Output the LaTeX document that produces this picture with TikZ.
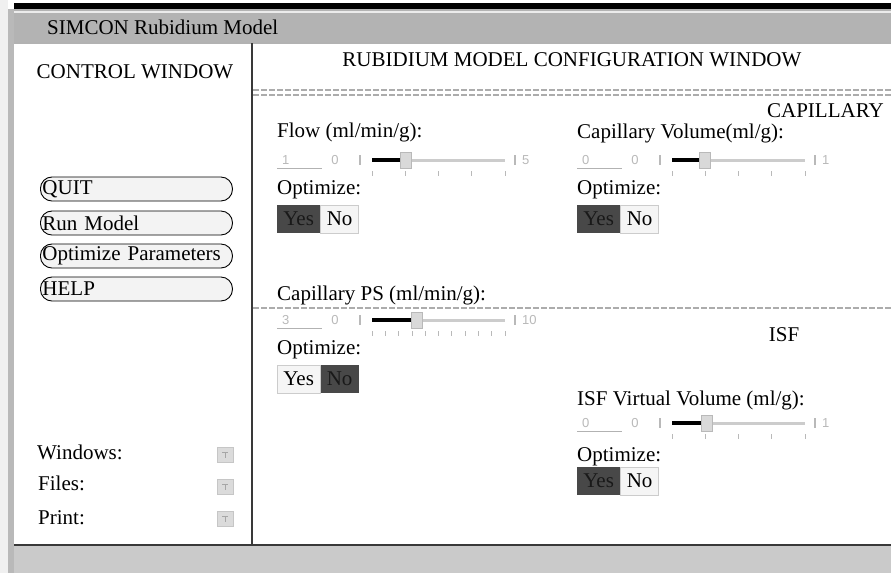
\documentclass[tikz,border=0pt]{standalone}
\usepackage{fontspec}
\setmainfont{Liberation Serif}
\newfontfamily\guisans{Liberation Sans}
\usetikzlibrary{positioning}
\definecolor{titlegray}{HTML}{B3B3B3}
\definecolor{pillfill}{HTML}{F3F3F3}
\definecolor{btndark}{HTML}{484848}
\definecolor{btnlight}{HTML}{F5F5F5}
\definecolor{statusgray}{HTML}{CACACA}

\begin{document}
\begin{tikzpicture}[
  x=1pt, y=-1pt,
  txt/.style={inner sep=0pt, font=\fontsize{21}{24}\selectfont},
  lbl/.style={txt, anchor=west},
  pill/.style={draw, line width=0.9pt, rounded corners=11.5pt, fill=pillfill,
               anchor=west, minimum height=24pt, inner xsep=2pt, inner ysep=0pt,
               text width=188pt, align=left, font=\fontsize{21}{24}\selectfont},
  onbtn/.style={txt, fill=btndark, text=black!90, minimum height=28pt},
  offbtn/.style={txt, fill=btnlight, draw=gray!40, minimum height=28pt},
  tiny/.style={inner sep=0pt, text=gray!55, font=\guisans\fontsize{13}{14}\selectfont},
  knob/.style={draw=gray!55, fill=gray!30, minimum width=11pt, minimum height=16pt, inner sep=0pt},
  menubtn/.style={draw=gray!45, fill=gray!28, minimum width=16pt, minimum height=15pt, inner sep=0pt,
                  path picture={\draw[gray!70, line width=0.9pt]
                    ([xshift=-3pt,yshift=3pt]path picture bounding box.center) -- ++(6pt,0pt)
                    ([yshift=3pt]path picture bounding box.center) -- ++(0pt,-6pt);}},
  dashline/.style={gray!65, line width=1.3pt, dash pattern=on 6pt off 2pt},
  frame/.style={gray!45!black, line width=1.3pt}
]
  \useasboundingbox (0,0) rectangle (891,573);
  % window frame
  \fill[white] (0,0) rectangle (891,573);
  \fill[gray!12] (0,0) rectangle (8,573);
  \fill[gray!55] (8,9) rectangle (14,573);
  \fill[black] (14,3) rectangle (891,9);
  \fill[titlegray] (14,9) rectangle (891,43);
  \draw[gray!15, line width=1.2pt] (14,12) -- (891,12);
  \draw[gray!60, line width=1.2pt] (14,43) -- (891,43);
  \fill[statusgray] (14,546) rectangle (891,573);
  \draw[frame] (14,545) -- (891,545);
  \draw[frame] (252,43) -- (252,545);
  \node[lbl] (title) at (47,27) {SIMCON Rubidium Model};

  % control window
  \node[txt] (ctrl) at (135,72) {CONTROL WINDOW};
  \node[pill] (quit) at (40,189) {QUIT};
  \node[pill] (run)  at (40,223) {Run Model};
  \node[pill] (opt)  at (40,256) {Optimize Parameters};
  \node[pill] (help) at (40,289) {HELP};
  \node[lbl] (winlbl)   at (37,452) {Windows:};
  \node[lbl] (filelbl)  at (38,483) {Files:};
  \node[lbl] (printlbl) at (38,518) {Print:};
  \node[menubtn] (winmenu)   at (225,455) {};
  \node[menubtn] (filemenu)  at (225,487) {};
  \node[menubtn] (printmenu) at (225,519) {};

  % configuration window
  \node[txt] (config) at (572,60) {RUBIDIUM MODEL CONFIGURATION WINDOW};
  \draw[dashline] (253,90) -- (891,90);
  \draw[dashline] (253,95) -- (891,95);
  \draw[dashline] (253,308) -- (891,308);
  \node[txt, anchor=east] (capsec) at (884,111) {CAPILLARY};
  \node[txt] (isfsec) at (784,335) {ISF};

  \node[lbl] (flowlbl) at (277,132) {Flow (ml/min/g):};
  \node[lbl] (flowopt) at (277,190) {Optimize:};
  \node[onbtn, anchor=west, minimum width=43pt] (flowyes) at (277,219) {Yes};
  \node[offbtn, minimum width=38pt, right=0pt of flowyes] (flowno) {No};

  \node[lbl] (cvollbl) at (577,133) {Capillary Volume(ml/g):};
  \node[lbl] (cvolopt) at (577,190) {Optimize:};
  \node[onbtn, anchor=west, minimum width=43pt] (cvolyes) at (577,219) {Yes};
  \node[offbtn, minimum width=38pt, right=0pt of cvolyes] (cvolno) {No};

  \node[lbl] (cpslbl) at (277,295) {Capillary PS (ml/min/g):};
  \node[lbl] (cpsopt) at (277,350) {Optimize:};
  \node[offbtn, anchor=west, minimum width=43pt] (cpsyes) at (277,379) {Yes};
  \node[onbtn, minimum width=38pt, right=0pt of cpsyes] (cpsno) {No};

  \node[lbl] (isflbl) at (577,400) {ISF Virtual Volume (ml/g):};
  \node[lbl] (isfopt) at (577,457) {Optimize:};
  \node[onbtn, anchor=west, minimum width=43pt] (isfyes) at (577,481) {Yes};
  \node[offbtn, minimum width=38pt, right=0pt of isfyes] (isfno) {No};

  % sliders
  \foreach \i/\sx/\sy/\val/\maxv/\knb/\nt in
    {flow/277/160/1/5/129/4, cvol/577/160/0/1/128/4,
     cps/277/320/3/10/140/10, isf/577/423/0/1/130/4}{
    \node[tiny, anchor=west] (val-\i) at (\sx+5,\sy) {\val};
    \draw[gray!60, line width=0.8pt] (\sx,\sy+8) -- (\sx+45,\sy+8);
    \node[tiny] (min-\i) at (\sx+58,\sy) {0};
    \draw[gray!55, line width=2pt] (\sx+83,\sy-5) -- (\sx+83,\sy+5);
    \draw[gray!40, line width=3pt] (\sx+95,\sy) -- (\sx+228,\sy);
    \draw[black, line width=4pt] (\sx+95,\sy) -- (\sx+\knb,\sy);
    \node[knob] (knob-\i) at (\sx+\knb,\sy) {};
    \draw[gray!55, line width=2pt] (\sx+238,\sy-5) -- (\sx+238,\sy+5);
    \node[tiny, anchor=west] (max-\i) at (\sx+245,\sy) {\maxv};
    \foreach \t in {0,...,\nt}
      \draw[gray!55, line width=0.8pt] ({\sx+95+133*\t/\nt},\sy+11) -- ++(0,5);
  }
\end{tikzpicture}
\end{document}
